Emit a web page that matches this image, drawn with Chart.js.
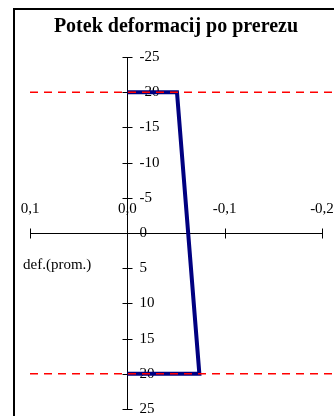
<!DOCTYPE html>
<html>
<head>
<meta charset="utf-8">
<script src="https://cdn.jsdelivr.net/npm/chart.js"></script>
<style>
  html, body { margin: 0; padding: 0; overflow: hidden; background: #fff; }
  #okvir { position: absolute; left: 13px; top: 8px; width: 330px; height: 420px; border: 2px solid #000; }
  canvas { display: block; }
</style>
</head>
<body>
<div id="okvir"><canvas id="graf" width="330" height="420"></canvas></div>
<script>
// potek deformacije po globini prereza
const globina = [-20, -20, 20, 20];
const deformacija = [0, -0.051, -0.074, 0];

// robova prereza (črtkani črti)
const robY = [-20, 20];
const robX = [0.1, -0.213];

// oznake na oseh
const xTicks = [0.1, 0, -0.1, -0.2];
const xTickLabels = ['0,1', '0,0', '-0,1', '-0,2'];
const yTicks = [-25, -20, -15, -10, -5, 0, 5, 10, 15, 20, 25];
const yTickLabels = ['-25', '-20', '-15', '-10', '-5', '0', '5', '10', '15', '20', '25'];

const pisava = '"Liberation Serif", "Times New Roman", serif';

// osi se sekata v izhodišču, oznake x nad osjo
const osi = {
  id: 'osi',
  beforeDatasetsDraw(chart) {
    const { ctx, scales: { x, y } } = chart;
    const px = v => Math.round(x.getPixelForValue(v)) + 0.5;
    const py = v => Math.round(y.getPixelForValue(v)) + 0.5;
    const x0 = px(0);
    const y0 = py(0);

    ctx.save();
    ctx.strokeStyle = '#000';
    ctx.lineWidth = 1;
    ctx.beginPath();
    ctx.moveTo(x0, py(yTicks[0]));
    ctx.lineTo(x0, py(yTicks[yTicks.length - 1]));
    yTicks.forEach(v => {
      ctx.moveTo(x0 - 5, py(v));
      ctx.lineTo(x0 + 5, py(v));
    });
    ctx.moveTo(px(xTicks[0]), y0);
    ctx.lineTo(px(xTicks[xTicks.length - 1]), y0);
    xTicks.forEach(v => {
      ctx.moveTo(px(v), y0 - 5);
      ctx.lineTo(px(v), y0 + 5);
    });
    ctx.stroke();

    ctx.fillStyle = '#000';
    ctx.font = '15px ' + pisava;
    ctx.textBaseline = 'middle';
    ctx.textAlign = 'left';
    yTicks.forEach((v, i) => ctx.fillText(yTickLabels[i], x0 + 12, y.getPixelForValue(v)));
    ctx.textAlign = 'center';
    xTicks.forEach((v, i) => ctx.fillText(xTickLabels[i], x.getPixelForValue(v), y0 - 24));
    ctx.textAlign = 'left';
    ctx.fillText('def.(prom.)', x.left - 7, y0 + 32);
    ctx.restore();
  }
};

const crtkana = yv => ({
  data: robX.map(xv => ({ x: xv, y: yv })),
  borderColor: '#ff0000',
  borderWidth: 1.5,
  borderDash: [8, 6],
  pointRadius: 0,
  showLine: true,
  clip: false,
  order: 0
});

new Chart(document.getElementById('graf'), {
  type: 'scatter',
  data: {
    datasets: [
      crtkana(robY[0]),
      crtkana(robY[1]),
      {
        data: deformacija.map((xv, i) => ({ x: xv, y: globina[i] })),
        borderColor: '#000080',
        borderWidth: 4,
        pointRadius: 0,
        showLine: true,
        order: 1
      }
    ]
  },
  options: {
    responsive: false,
    animation: false,
    layout: {
      padding: { left: 15, right: 23, bottom: 21, top: 0 }
    },
    scales: {
      x: { type: 'linear', reverse: true, min: -0.2, max: 0.1, display: false },
      y: { type: 'linear', reverse: true, min: -25, max: 25, display: false }
    },
    plugins: {
      legend: { display: false },
      tooltip: { enabled: false },
      title: {
        display: true,
        text: 'Potek deformacij po prerezu',
        color: '#000',
        font: { family: pisava, size: 20, weight: 'bold' },
        padding: { top: 5, bottom: 18 }
      }
    }
  },
  plugins: [osi]
});
</script>
</body>
</html>
